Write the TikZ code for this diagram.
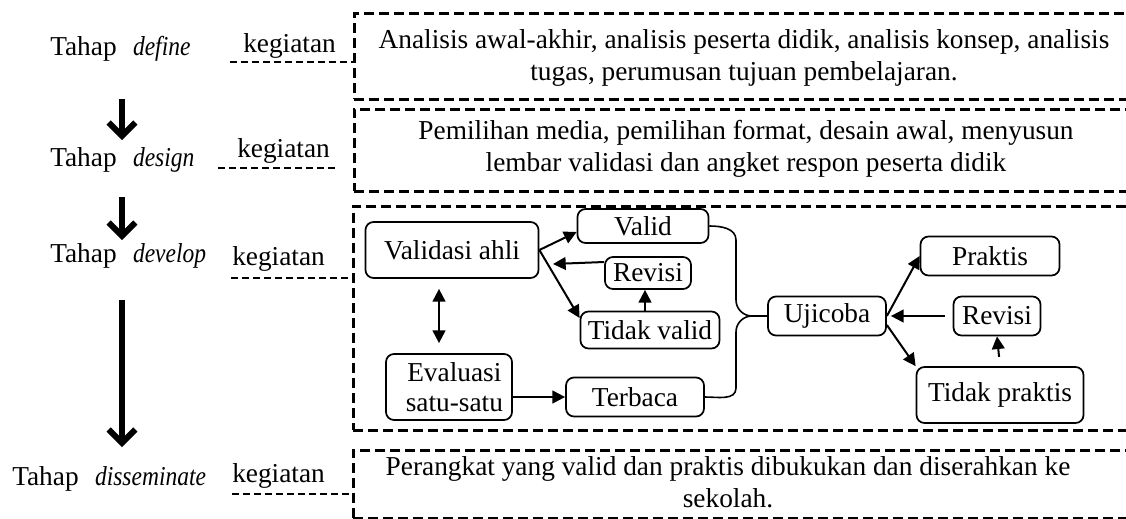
\documentclass[tikz,border=0pt]{standalone}
\usepackage{fontspec}
\setmainfont{Liberation Serif}
\usetikzlibrary{arrows.meta,calc}
\begin{document}
\begin{tikzpicture}[x=0.75pt,y=-0.75pt,
  every node/.style={font=\fontsize{20.5}{24}\selectfont, inner sep=0pt},
  lbl/.style={anchor=base west},
  dbox/.style={draw, line width=2pt, dash pattern=on 7.5pt off 3.75pt, anchor=north west, minimum width=594pt},
  uline/.style={line width=1.2pt, dash pattern=on 5.25pt off 3pt},
  rbox/.style={draw, line width=1.3pt, rounded corners=6pt},
  sarr/.style={line width=1.5pt, -{Triangle[length=9.5pt,width=9.5pt]}},
  darr/.style={line width=1.5pt, {Triangle[length=9.5pt,width=9.5pt]}-{Triangle[length=9.5pt,width=9.5pt]}},
  barr/.style={line width=4.5pt, -{Straight Barb[length=10pt,width=20pt,line width=4.5pt]}},
  brace/.style={line width=1.2pt},
]
\newcommand{\stg}[1]{\scalebox{0.86}[1]{\textit{#1}}}
\useasboundingbox (0,0) rectangle (1126,518);
\clip (0,0) rectangle (1126,518);

% dashed boxes
\node[dbox, minimum height=64.5pt] (b1) at (353,12) {};
\node[dbox, minimum height=61.5pt] (b2) at (353,108) {};
\node[dbox, minimum height=168pt] (b3) at (352,205) {};
\node[dbox, minimum height=51pt] (b4) at (352,449) {};

% stage labels
\node[lbl] (t1) at (50,55) {Tahap\hspace{0.6em}\stg{define}};
\node[lbl] (t2) at (50,166) {Tahap\hspace{0.6em}\stg{design}};
\node[lbl] (t3) at (50,262) {Tahap\hspace{0.6em}\stg{develop}};
\node[lbl] (t4) at (12,485) {Tahap\hspace{0.6em}\stg{disseminate}};

\node[lbl] (k1) at (243,52) {kegiatan};
\node[lbl] (k2) at (237,157) {kegiatan};
\node[lbl] (k3) at (232,265) {kegiatan};
\node[lbl] (k4) at (232,482) {kegiatan};

% dashed underlines
\coordinate (u1) at (230,62);
\draw[uline] (u1) -- (u1 -| b1.west);
\coordinate (u2) at (218,168);
\coordinate (u2e) at (338,168);
\draw[uline] (u2) -- (u2e);
\coordinate (u3) at (231,278);
\draw[uline] (u3) -- (u3 -| b3.west);
\coordinate (u4) at (232,494);
\draw[uline] (u4) -- (u4 -| b4.west);

% big arrows
\coordinate (a1s) at (122,99);  \coordinate (a1e) at (122,140);
\coordinate (a2s) at (122,197); \coordinate (a2e) at (122,240);
\coordinate (a3s) at (122,300); \coordinate (a3e) at (122,447);
\draw[barr] (a1s) -- (a1e);
\draw[barr] (a2s) -- (a2e);
\draw[barr] (a3s) -- (a3e);

% box texts
\node[align=center] (d1) at (744,58) {Analisis awal-akhir, analisis peserta didik, analisis konsep, analisis\\tugas, perumusan tujuan pembelajaran.};
\node[align=center] (d2) at (746,149) {Pemilihan media, pemilihan format, desain awal, menyusun\\lembar validasi dan angket respon peserta didik\hspace{34pt}};
\node[align=center] (d4) at (728,482) {Perangkat yang valid dan praktis dibukukan dan diserahkan ke\\sekolah.};

% develop internals
\node[rbox, minimum width=129.75pt, minimum height=42pt] (va) at (452,250) {Validasi ahli};
\node[rbox, minimum width=98.25pt, minimum height=25.5pt] (vl) at (643,226) {Valid\hspace{14pt}};
\node[rbox, minimum width=64.5pt, minimum height=24pt] (rl) at (648,273) {Revisi};
\node[rbox, minimum width=104.25pt, minimum height=27.75pt] (tv) at (650,330) {Tidak valid};
\node[rbox, minimum width=94.5pt, minimum height=49.5pt, align=center, font=\fontsize{20.5}{22}\selectfont] (ev) at (449,387) {\hspace{8pt}Evaluasi\\\hspace{8pt}satu-satu};
\node[rbox, minimum width=103.5pt, minimum height=29.25pt] (tb) at (635,397) {Terbaca};
\node[rbox, minimum width=88.5pt, minimum height=29.25pt] (uj) at (827,316) {Ujicoba};
\node[rbox, minimum width=104.25pt, minimum height=29.25pt] (pr) at (990,256) {Praktis};
\node[rbox, minimum width=65.25pt, minimum height=29.25pt] (rr) at (997,316) {Revisi};
\node[rbox, minimum width=125.25pt, minimum height=42pt] (tp) at (1000,395) {Tidak praktis};

\coordinate (vaR) at (553,264);
\coordinate (tip) at (752,316);

\draw[sarr] (va.east) -- ($(vl.west)+(0,6)$);
\draw[sarr] ($(rl.west)+(0,-11)$) -- (vaR);
\draw[sarr] (va.east) -- ($(tv.west)+(0,-12)$);
\draw[sarr] ($(tv.north)+(-5,0)$) -- ($(rl.south)+(-3,0)$);
\draw[darr] ($(va.south)+(-13,10)$) -- ($(ev.north)+(-10,-10)$);
\draw[sarr] (ev.east |- tb.west) -- (tb.west);

\draw[brace] (vl.east) to[out=0,in=90] (736,240) -- (736,300) to[out=-90,in=180] (tip) -- (uj.west);
\draw[brace] (tb.east) to[out=0,in=-90] (736,388) -- (736,332) to[out=90,in=180] (tip);

\draw[sarr] (uj.east) -- (pr.west);
\draw[sarr, shorten >=3pt, shorten <=6pt] (rr.west) -- (uj.east);
\draw[sarr] ($(uj.east)+(0,9)$) -- (tp.north west);
\draw[sarr, shorten <=7pt] (tp.north) -- (rr.south);
\end{tikzpicture}
\end{document}
